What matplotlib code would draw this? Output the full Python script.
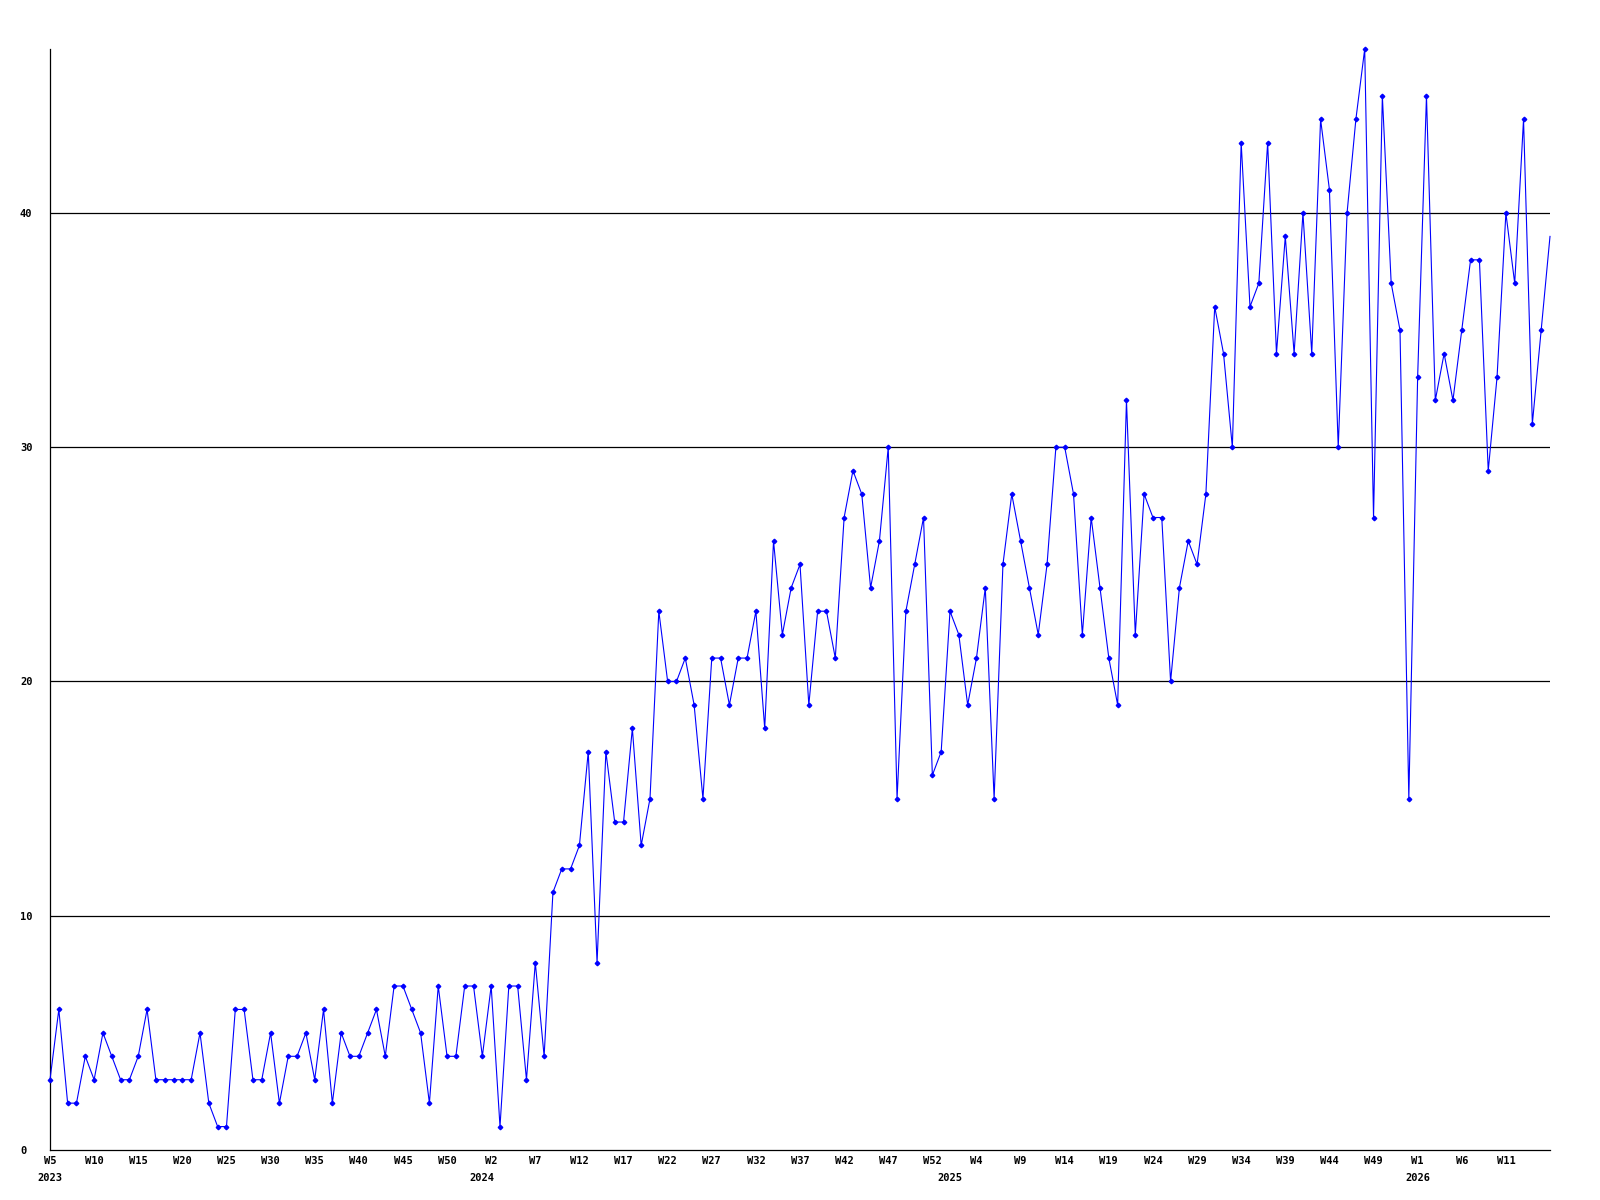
import matplotlib
matplotlib.use("Agg")
import matplotlib.pyplot as plt
import matplotlib.transforms as mtransforms

# weekly counts, 2023 W5 .. 2026 W16
values = [3, 6, 2, 2, 4, 3, 5, 4, 3, 3, 4, 6, 3, 3, 3, 3, 3, 5, 2, 1,
          1, 6, 6, 3, 3, 5, 2, 4, 4, 5, 3, 6, 2, 5, 4, 4, 5, 6, 4, 7,
          7, 6, 5, 2, 7, 4, 4, 7, 7, 4, 7, 1, 7, 7, 3, 8, 4, 11, 12, 12,
          13, 17, 8, 17, 14, 14, 18, 13, 15, 23, 20, 20, 21, 19, 15, 21, 21, 19, 21, 21,
          23, 18, 26, 22, 24, 25, 19, 23, 23, 21, 27, 29, 28, 24, 26, 30, 15, 23, 25, 27,
          16, 17, 23, 22, 19, 21, 24, 15, 25, 28, 26, 24, 22, 25, 30, 30, 28, 22, 27, 24,
          21, 19, 32, 22, 28, 27, 27, 20, 24, 26, 25, 28, 36, 34, 30, 43, 36, 37, 43, 34,
          39, 34, 40, 34, 44, 41, 30, 40, 44, 47, 27, 45, 37, 35, 15, 33, 45, 32, 34, 32,
          35, 38, 38, 29, 33, 40, 37, 44, 31, 35, 39]

# (year, first week, last week) covered by the series
year_spans = [(2023, 5, 53), (2024, 1, 53), (2025, 1, 53), (2026, 1, 16)]
y_ticks = [0, 10, 20, 30, 40]

weeks = []
years = []
for yr, w0, w1 in year_spans:
    for w in range(w0, w1 + 1):
        weeks.append(w)
        years.append(yr)

x = list(range(len(values)))

plt.rcParams['font.family'] = ['DejaVu Sans Mono']
fig = plt.figure(figsize=(16, 12), dpi=100)
ax = fig.add_axes([50 / 1600, 50 / 1200, 1500 / 1600, 1101 / 1200])

for v in y_ticks[1:]:
    ax.axhline(v, color='black', linewidth=0.9, zorder=1)

# last (current) week is drawn without a marker
ax.plot(x, values, color='#0000ff', linewidth=0.8, marker='D', markersize=2.3,
        markevery=list(range(len(values) - 1)), zorder=3, clip_on=False)

ax.set_xlim(0, len(values) - 1)
ax.set_ylim(0, max(values))

for side in ['top', 'right']:
    ax.spines[side].set_visible(False)
for side in ['left', 'bottom']:
    ax.spines[side].set_color('black')
    ax.spines[side].set_linewidth(0.9)

tick_idx = x[:-1:5]
ax.set_xticks(tick_idx)
ax.set_xticklabels(['W%d' % weeks[i] for i in tick_idx], fontsize=7.5, fontweight='bold')
ax.set_yticks(y_ticks)
ax.set_yticklabels([str(v) for v in y_ticks], fontsize=7.5, fontweight='bold')
ax.tick_params(axis='x', length=0, pad=4.5)
ax.tick_params(axis='y', length=0, pad=21.6)
for lab in ax.get_yticklabels():
    lab.set_horizontalalignment('left')

# year labels under the first week of each year
trans = mtransforms.blended_transform_factory(ax.transData, ax.transAxes)
prev = None
for i, yr in enumerate(years):
    if yr != prev:
        ax.text(i, -0.0205, str(yr), transform=trans, ha='center', va='top',
                fontsize=7.5, fontweight='bold')
        prev = yr

fig.savefig('out.png', dpi=100)
